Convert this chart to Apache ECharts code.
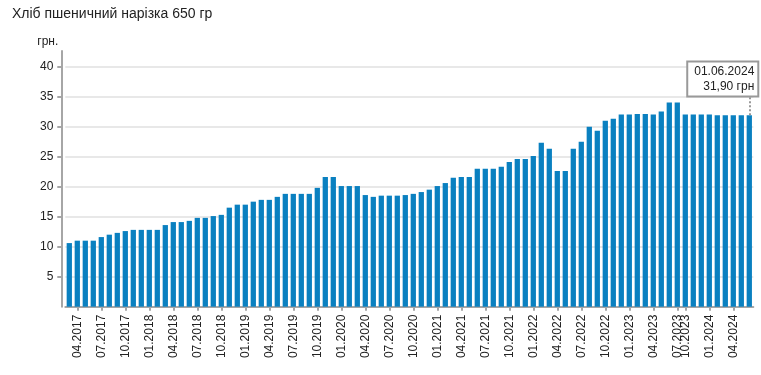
<!DOCTYPE html>
<html>
<head>
<meta charset="utf-8">
<script src="https://cdn.jsdelivr.net/npm/echarts@6/dist/echarts.min.js"></script>
<style>
html,body{margin:0;padding:0;background:#fff;}
#chart{width:761px;height:375px;}
</style>
</head>
<body>
<div id="chart"></div>
<script>
var titleText = 'Хліб пшеничний нарізка 650 гр';
var unitName = 'грн.';
var categories = [
'03.2017','04.2017','05.2017','06.2017','07.2017','08.2017','09.2017','10.2017','11.2017','12.2017',
'01.2018','02.2018','03.2018','04.2018','05.2018','06.2018','07.2018','08.2018','09.2018','10.2018','11.2018','12.2018',
'01.2019','02.2019','03.2019','04.2019','05.2019','06.2019','07.2019','08.2019','09.2019','10.2019','11.2019','12.2019',
'01.2020','02.2020','03.2020','04.2020','05.2020','06.2020','07.2020','08.2020','09.2020','10.2020','11.2020','12.2020',
'01.2021','02.2021','03.2021','04.2021','05.2021','06.2021','07.2021','08.2021','09.2021','10.2021','11.2021','12.2021',
'01.2022','02.2022','03.2022','04.2022','05.2022','06.2022','07.2022','08.2022','09.2022','10.2022','11.2022','12.2022',
'01.2023','02.2023','03.2023','04.2023','05.2023','06.2023','07.2023','10.2023','11.2023','12.2023',
'01.2024','02.2024','03.2024','04.2024','05.2024','06.2024'
];
var prices = [
10.6,11.0,11.0,11.0,11.6,12.0,12.3,12.6,12.8,12.8,
12.8,12.8,13.6,14.1,14.1,14.3,14.8,14.8,15.1,15.3,16.5,17.0,
17.0,17.5,17.8,17.8,18.3,18.8,18.8,18.8,18.8,19.8,21.6,21.6,
20.1,20.1,20.1,18.6,18.3,18.5,18.5,18.5,18.6,18.8,19.1,19.5,
20.1,20.6,21.5,21.6,21.6,23.0,23.0,23.0,23.3,24.1,24.6,24.6,
25.1,27.3,26.3,22.6,22.6,26.3,27.5,30.0,29.3,31.0,31.3,32.0,
32.0,32.1,32.1,32.0,32.5,34.0,34.0,32.0,32.0,32.0,
32.0,31.9,31.9,31.9,31.9,31.9
];
var yTicks = [0,5,10,15,20,25,30,35,40];
var labelMonths = ['01','04','07','10'];
var tipDate = '01.06.2024';
var tipText = '31,90 грн';

var lastIdx = prices.length - 1;
var lastVal = prices[lastIdx];
function showLabel(i, v){ return labelMonths.indexOf(categories[i].slice(0,2)) >= 0; }

var chart = echarts.init(document.getElementById('chart'), null, {renderer:'canvas'});
chart.setOption({
  animation:false,
  textStyle:{fontFamily:'Liberation Sans, Arial, sans-serif'},
  title:{text:titleText,left:12,top:7,padding:0,textStyle:{fontSize:14,fontWeight:'normal',color:'#222',fontFamily:'Liberation Sans, Arial, sans-serif'}},
  grid:{left:65.3,right:7.7,top:51,bottom:68.3},
  xAxis:{
    type:'category',
    data:categories,
    boundaryGap:true,
    axisLine:{lineStyle:{color:'#a6a6a6',width:2}},
    axisTick:{show:true,interval:showLabel,alignWithLabel:true,length:4,lineStyle:{color:'#a6a6a6',width:2}},
    axisLabel:{interval:showLabel,rotate:90,fontSize:12,color:'#222',margin:8,fontFamily:'Liberation Sans, Arial, sans-serif'}
  },
  yAxis:{
    type:'value',
    min:0,max:42.6,interval:5,
    offset:4,
    name:unitName,
    nameLocation:'end',
    nameGap:3,
    nameTextStyle:{fontSize:12,color:'#222',align:'right',padding:[0,3,0,0]},
    axisLine:{show:true,lineStyle:{color:'#a6a6a6',width:2}},
    axisTick:{show:true,length:4,lineStyle:{color:'#a6a6a6',width:2}},
    axisLabel:{fontSize:12,color:'#222',margin:8,showMinLabel:false,showMaxLabel:false,
      formatter:function(v){return yTicks.indexOf(v)>=0 ? String(v) : '';}},
    splitLine:{show:true,lineStyle:{color:['#e8e8e8','#e8e8e8','#e8e8e8','#e8e8e8','#e8e8e8','#e8e8e8','#e8e8e8','#e8e8e8','#e8e8e8','rgba(0,0,0,0)'],width:2}}
  },
  series:[{
    type:'bar',
    data:prices,
    barWidth:'66%',
    itemStyle:{color:'#0a80c0'},
    markLine:{
      silent:true,
      symbol:['none','none'],
      label:{show:false},
      lineStyle:{type:'dotted',color:'#999',width:2},
      data:[[{coord:[lastIdx,lastVal]},{coord:[lastIdx,lastVal+3.2]}]]
    },
    markPoint:{
      silent:true,
      symbol:'rect',symbolSize:1,
      itemStyle:{color:'rgba(0,0,0,0)'},
      data:[{coord:[lastIdx,lastVal+3.2]}],
      label:{
        show:true,position:'top',distance:0,align:'right',offset:[8,0],
        formatter:tipDate+'\n'+tipText,
        fontSize:12,color:'#222',lineHeight:15,
        backgroundColor:'#fff',borderColor:'#999',borderWidth:2,
        padding:[2,3,1,6],
        fontFamily:'Liberation Sans, Arial, sans-serif'
      }
    }
  }]
});
</script>
</body>
</html>
